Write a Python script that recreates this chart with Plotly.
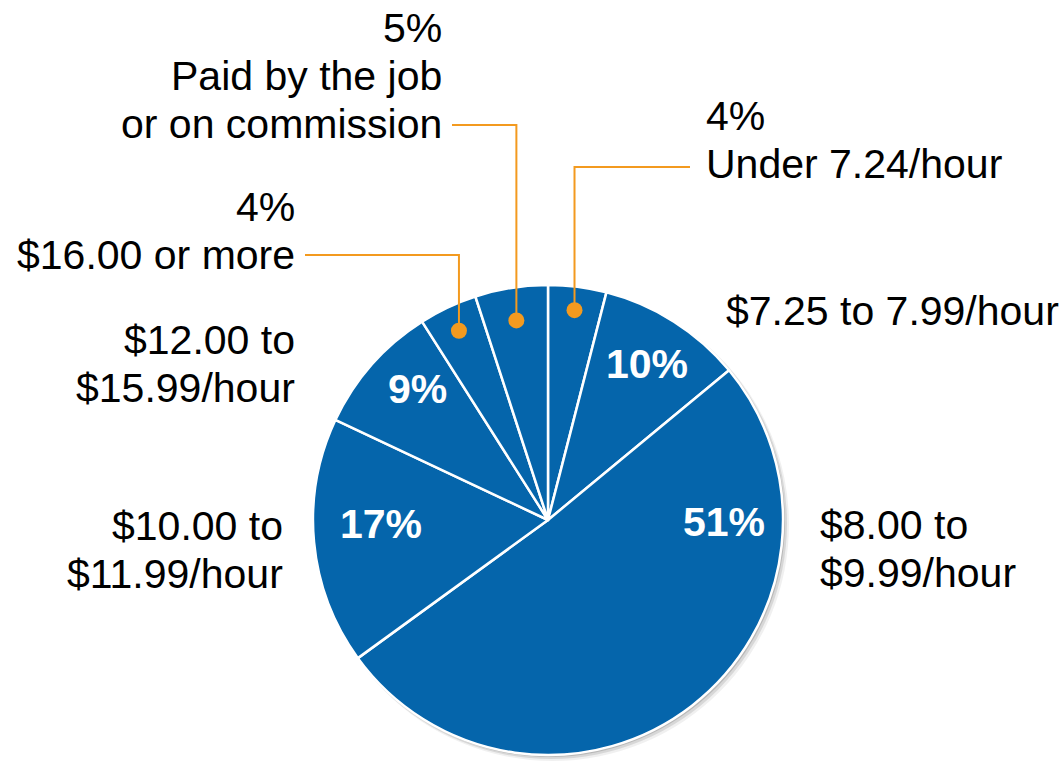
import math
import plotly.graph_objects as go

# ---------------- data ----------------
categories = [
    "Under 7.24/hour",
    "$7.25 to 7.99/hour",
    "$8.00 to $9.99/hour",
    "$10.00 to $11.99/hour",
    "$12.00 to $15.99/hour",
    "$16.00 or more",
    "Paid by the job or on commission",
]
values = [4, 10, 51, 17, 9, 4, 5]

# label text lines shown outside the pie (percent line prepended where needed)
label_lines = [
    ["Under 7.24/hour"],
    ["$7.25 to 7.99/hour"],
    ["$8.00 to", "$9.99/hour"],
    ["$10.00 to", "$11.99/hour"],
    ["$12.00 to", "$15.99/hour"],
    ["$16.00 or more"],
    ["Paid by the job", "or on commission"],
]
# slices whose percentage is printed outside with a leader line
outside_pct = [True, False, False, False, False, True, True]

# ---------------- layout constants (pixels) ----------------
W, H = 1063, 762
CX, CY, R = 548, 520, 235
BLUE = "#0565AB"
ORANGE = "#F39A1F"
FONT = "Liberation Sans, Arial, sans-serif"
FS = 41
LINE_GAP = 48

def px(x):
    return x / W

def py(y):
    return 1 - y / H

# label anchor: (x, y of first line center, xanchor)
label_pos = [
    (704, 116, "left"),
    (724, 311, "left"),
    (818, 525, "left"),
    (285, 526, "right"),
    (297, 340, "right"),
    (297, 207, "right"),
    (444, 28, "right"),
]
# inside percentage label centers
inside_pos = [None, (647, 364), (724, 522), (381, 524), (417, 389), None, None]
# leader line end x and y (horizontal segment)
leader = [(690, 167), None, None, None, None, (305, 255), (452, 125)]
DOT_R_FRAC = [0.90, None, None, None, None, 0.89, 0.86]

fig = go.Figure()
fig.add_trace(go.Pie(
    labels=categories,
    values=values,
    sort=False,
    direction="clockwise",
    rotation=0,
    textinfo="none",
    hoverinfo="label+percent",
    marker=dict(colors=[BLUE] * len(values), line=dict(color="white", width=2.5)),
    domain=dict(x=[px(CX - R), px(CX + R)], y=[py(CY + R), py(CY - R)]),
    showlegend=False,
))

shapes = []
# soft shadow behind pie
for off, col in [(6, "rgba(0,0,0,0.06)"), (4, "rgba(0,0,0,0.10)"), (2, "rgba(0,0,0,0.14)")]:
    shapes.append(dict(type="circle", xref="paper", yref="paper", layer="below",
                       x0=px(CX - R + off / 2), x1=px(CX + R + off),
                       y0=py(CY + R + off), y1=py(CY - R + off / 2),
                       line=dict(width=0), fillcolor=col))

annotations = []
total = sum(values)
cum = 0
for i, v in enumerate(values):
    mid = (cum + v / 2) / total * 2 * math.pi
    cum += v
    lines = list(label_lines[i])
    if outside_pct[i]:
        lines = [f"{v}%"] + lines
    x0, y0, anchor = label_pos[i]
    for k, t in enumerate(lines):
        annotations.append(dict(
            x=px(x0), y=py(y0 + k * LINE_GAP), xref="paper", yref="paper",
            text=t, showarrow=False, xanchor=anchor, yanchor="middle",
            font=dict(family=FONT, size=FS, color="black"),
        ))
    if inside_pos[i] is not None:
        ix, iy = inside_pos[i]
        annotations.append(dict(
            x=px(ix), y=py(iy), xref="paper", yref="paper",
            text=f"<b>{v}%</b>", showarrow=False, xanchor="center", yanchor="middle",
            font=dict(family=FONT, size=FS, color="white"),
        ))
    if leader[i] is not None:
        f = DOT_R_FRAC[i]
        dx = CX + R * f * math.sin(mid)
        dy = CY - R * f * math.cos(mid)
        lx, ly = leader[i]
        shapes.append(dict(type="path", xref="paper", yref="paper",
                           path=f"M {px(dx)} {py(dy)} L {px(dx)} {py(ly)} L {px(lx)} {py(ly)}",
                           line=dict(color=ORANGE, width=2)))
        rr = 8
        shapes.append(dict(type="circle", xref="paper", yref="paper",
                           x0=px(dx - rr), x1=px(dx + rr), y0=py(dy + rr), y1=py(dy - rr),
                           line=dict(width=0), fillcolor=ORANGE))

fig.update_layout(
    width=W, height=H,
    margin=dict(l=0, r=0, t=0, b=0),
    paper_bgcolor="white",
    plot_bgcolor="white",
    shapes=shapes,
    annotations=annotations,
)

fig.write_html("out.html", config={"displayModeBar": False},
               post_script="document.body.style.margin='0';")
